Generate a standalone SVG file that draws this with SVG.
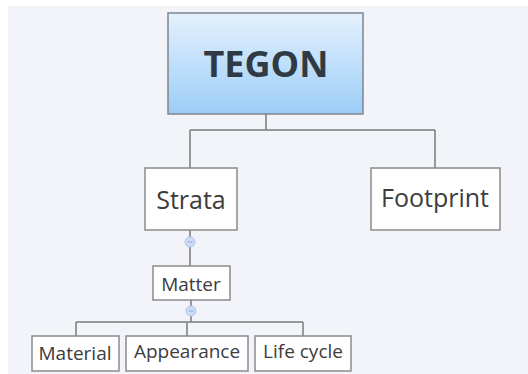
<svg xmlns="http://www.w3.org/2000/svg" width="528" height="374" viewBox="0 0 528 374">
<defs>
<linearGradient id="g" x1="0" y1="0" x2="0" y2="1">
<stop offset="0" stop-color="#e4f1fd"/>
<stop offset="1" stop-color="#9ccdf7"/>
</linearGradient>
<style>
.box{fill:#ffffff;stroke:#8a8a8a;stroke-width:1.5}
.t{font-family:"Open Sans","Noto Sans",sans-serif;fill:#3c3c3c;text-anchor:middle}
.s{font-size:19px}
.c{fill:none;stroke:#7a7a7a;stroke-width:1.5}
.k{fill:#cfdcf6;stroke:#aec4ee;stroke-width:1}
.m{stroke:#8fa9de;stroke-width:1}
</style>
</defs>
<rect width="528" height="374" fill="#ffffff"/>
<rect x="8" y="6" width="520" height="368" fill="#f3f4f9"/>
<g id="connectors">
<path class="c" d="M266 114V130M190 130H435M190 130V168M435 130V168"/>
<path class="c" d="M190 230V266"/>
<path class="c" d="M191 300V322M76 322H303M76 322V336M187 322V336M303 322V336"/>
<circle class="k" cx="190" cy="242" r="5"/>
<path class="m" d="M187.5 242H192.5"/>
<circle class="k" cx="191" cy="311" r="5"/>
<path class="m" d="M188.5 311H193.5"/>
</g>
<g id="tegon">
<rect x="168" y="13" width="195" height="101" fill="url(#g)" stroke="#7d8590" stroke-width="1.5"/>
<text class="t" x="266" y="77" font-size="36" font-weight="bold" style="fill:#2f3a45">TEGON</text>
</g>
<g id="strata">
<rect class="box" x="145" y="168" width="92" height="62"/>
<text class="t" x="191" y="209" font-size="25">Strata</text>
</g>
<g id="footprint">
<rect class="box" x="371" y="168" width="129" height="62"/>
<text class="t" x="435" y="207" font-size="25">Footprint</text>
</g>
<g id="matter">
<rect class="box" x="153" y="266" width="77" height="34"/>
<text class="t s" x="191" y="291">Matter</text>
</g>
<g id="material">
<rect class="box" x="32" y="336" width="87" height="35"/>
<text class="t s" x="75" y="360">Material</text>
</g>
<g id="appearance">
<rect class="box" x="126" y="336" width="122" height="35"/>
<text class="t s" x="187" y="358">Appearance</text>
</g>
<g id="lifecycle">
<rect class="box" x="255" y="336" width="96" height="35"/>
<text class="t s" x="303" y="358">Life cycle</text>
</g>
</svg>
